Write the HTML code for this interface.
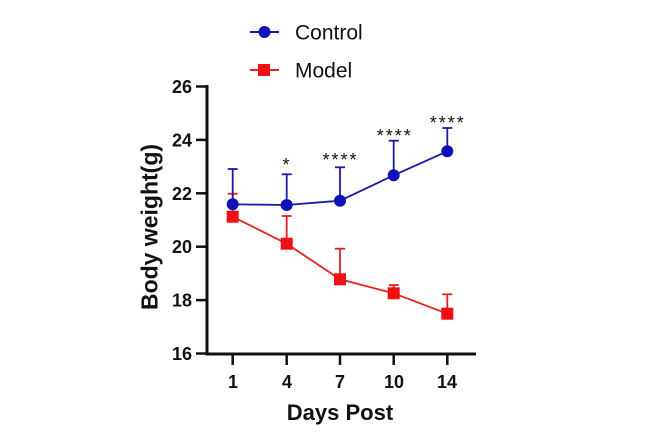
<!DOCTYPE html>
<html>
<head>
<meta charset="utf-8">
<style>
  html,body{margin:0;padding:0;background:#fff;}
  svg{display:block;}
  text{font-family:"Liberation Sans",Arial,sans-serif;}
</style>
</head>
<body>
<svg width="650" height="444" viewBox="0 0 650 444" xmlns="http://www.w3.org/2000/svg">
  <rect width="650" height="444" fill="#fff"/>

  <!-- Legend -->
  <line x1="250" y1="32" x2="279" y2="32" stroke="#1a1aa8" stroke-width="2"/>
  <circle cx="264.5" cy="32" r="6" fill="#1010b8"/>
  <text x="295" y="39.5" font-size="21" fill="#111">Control</text>
  <line x1="250" y1="70" x2="279" y2="70" stroke="#e82020" stroke-width="2"/>
  <rect x="258" y="64" width="12" height="12" fill="#ee1111"/>
  <text x="295" y="77.5" font-size="21" fill="#111">Model</text>

  <!-- Axes -->
  <line x1="207" y1="85" x2="207" y2="355" stroke="#111" stroke-width="3"/>
  <line x1="205.5" y1="354" x2="476" y2="354" stroke="#111" stroke-width="3"/>
  <!-- y ticks -->
  <g stroke="#111" stroke-width="2.5">
    <line x1="196" y1="86.5" x2="207" y2="86.5"/>
    <line x1="196" y1="139.9" x2="207" y2="139.9"/>
    <line x1="196" y1="193.3" x2="207" y2="193.3"/>
    <line x1="196" y1="246.7" x2="207" y2="246.7"/>
    <line x1="196" y1="300.1" x2="207" y2="300.1"/>
    <line x1="196" y1="353.5" x2="207" y2="353.5"/>
  </g>
  <g font-size="18" font-weight="bold" fill="#111" text-anchor="end">
    <text x="192" y="93">26</text>
    <text x="192" y="146.4">24</text>
    <text x="192" y="199.8">22</text>
    <text x="192" y="253.2">20</text>
    <text x="192" y="306.6">18</text>
    <text x="192" y="360">16</text>
  </g>
  <!-- x ticks -->
  <g stroke="#111" stroke-width="2.5">
    <line x1="232.7" y1="354" x2="232.7" y2="365"/>
    <line x1="286.7" y1="354" x2="286.7" y2="365"/>
    <line x1="340" y1="354" x2="340" y2="365"/>
    <line x1="393.7" y1="354" x2="393.7" y2="365"/>
    <line x1="447.3" y1="354" x2="447.3" y2="365"/>
  </g>
  <g font-size="18" font-weight="bold" fill="#111" text-anchor="middle">
    <text x="233" y="388">1</text>
    <text x="287" y="388">4</text>
    <text x="340" y="388">7</text>
    <text x="394" y="388">10</text>
    <text x="447" y="388">14</text>
  </g>
  <text x="340" y="420" font-size="22" font-weight="bold" fill="#111" text-anchor="middle">Days Post</text>
  <text transform="translate(157.5,227) rotate(-90)" font-size="23" font-weight="bold" fill="#111" text-anchor="middle">Body weight(g)</text>

  <!-- Model series -->
  <g stroke="#e82020" stroke-width="1.8" fill="none">
    <line x1="232.7" y1="216.7" x2="232.7" y2="193.7"/><line x1="227.7" y1="193.7" x2="237.7" y2="193.7"/>
    <line x1="286.7" y1="243.7" x2="286.7" y2="216"/><line x1="281.7" y1="216" x2="291.7" y2="216"/>
    <line x1="340" y1="279.3" x2="340" y2="248.7"/><line x1="335" y1="248.7" x2="345" y2="248.7"/>
    <line x1="393.7" y1="293.3" x2="393.7" y2="285"/><line x1="388.7" y1="285" x2="398.7" y2="285"/>
    <line x1="447.3" y1="313.7" x2="447.3" y2="294.3"/><line x1="442.3" y1="294.3" x2="452.3" y2="294.3"/>
    <polyline points="232.7,216.7 286.7,243.7 340,279.3 393.7,293.3 447.3,313.7"/>
  </g>
  <g fill="#ee1111">
    <rect x="226.7" y="210.7" width="12" height="12"/>
    <rect x="280.7" y="237.7" width="12" height="12"/>
    <rect x="334" y="273.3" width="12" height="12"/>
    <rect x="387.7" y="287.3" width="12" height="12"/>
    <rect x="441.3" y="307.7" width="12" height="12"/>
  </g>

  <!-- Control series -->
  <g stroke="#1a1aa8" stroke-width="1.8" fill="none">
    <line x1="232.7" y1="204.3" x2="232.7" y2="169"/><line x1="227.7" y1="169" x2="237.7" y2="169"/>
    <line x1="286.7" y1="205" x2="286.7" y2="174.3"/><line x1="281.7" y1="174.3" x2="291.7" y2="174.3"/>
    <line x1="340" y1="200.7" x2="340" y2="167.3"/><line x1="335" y1="167.3" x2="345" y2="167.3"/>
    <line x1="393.7" y1="175.3" x2="393.7" y2="140.7"/><line x1="388.7" y1="140.7" x2="398.7" y2="140.7"/>
    <line x1="447.3" y1="151.3" x2="447.3" y2="128"/><line x1="442.3" y1="128" x2="452.3" y2="128"/>
    <polyline points="232.7,204.3 286.7,205 340,200.7 393.7,175.3 447.3,151.3"/>
  </g>
  <g fill="#1010b8">
    <circle cx="232.7" cy="204.3" r="6"/>
    <circle cx="286.7" cy="205" r="6"/>
    <circle cx="340" cy="200.7" r="6"/>
    <circle cx="393.7" cy="175.3" r="6"/>
    <circle cx="447.3" cy="151.3" r="6"/>
  </g>

  <!-- Significance -->
  <g font-size="18" fill="#111" text-anchor="middle">
    <text x="286" y="171">*</text>
    <text x="326" y="166">*</text><text x="335" y="166">*</text><text x="344" y="166">*</text><text x="353" y="166">*</text>
    <text x="380.3" y="142">*</text><text x="389.3" y="142">*</text><text x="398.3" y="142">*</text><text x="407.3" y="142">*</text>
    <text x="433.2" y="129">*</text><text x="442.2" y="129">*</text><text x="451.2" y="129">*</text><text x="460.2" y="129">*</text>
  </g>
</svg>
</body>
</html>
